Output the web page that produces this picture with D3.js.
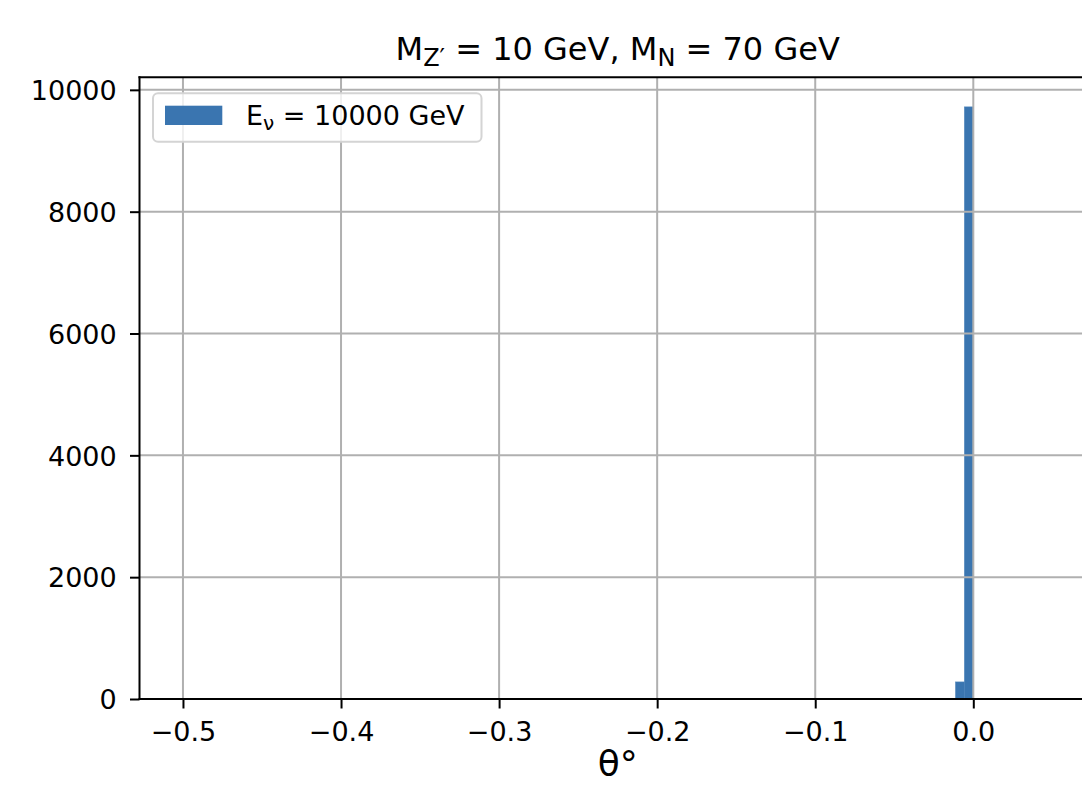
<!DOCTYPE html>
<html>
<head>
<meta charset="utf-8">
<script src="https://cdn.jsdelivr.net/npm/d3@7"></script>
<style>
  html, body { margin: 0; padding: 0; background: #ffffff; }
  svg { display: block; font-family: "DejaVu Sans", sans-serif; }
</style>
</head>
<body>
<svg id="chart" width="1082" height="785"></svg>
<script>
// Histogram of the emission angle (degrees)
const binEdges = [-0.0112, -0.0056, 0.0];
const counts = [280, 9720];
const xTicks = [-0.5, -0.4, -0.3, -0.2, -0.1, 0.0];
const yTicks = [0, 2000, 4000, 6000, 8000, 10000];
const xDomain = [-0.5275, 0.0775];
const yDomain = [0, 10206];

const barColor = "#3a75b0";
const gridColor = "#b0b0b0";

const svg = d3.select("#chart");
const plot = { left: 139.5, right: 1095.8, top: 77.3, bottom: 699 };

const x = d3.scaleLinear().domain(xDomain).range([plot.left, plot.right]);
const y = d3.scaleLinear().domain(yDomain).range([plot.bottom, plot.top]);

const bins = counts.map((c, i) => ({ x0: binEdges[i], x1: binEdges[i + 1], count: c }));

// bars
svg.append("g")
  .selectAll("rect")
  .data(bins)
  .join("rect")
  .attr("x", d => x(d.x0))
  .attr("width", d => x(d.x1) - x(d.x0))
  .attr("y", d => y(d.count))
  .attr("height", d => y(0) - y(d.count))
  .attr("fill", barColor)
  .attr("stroke", "#4a82b8")
  .attr("stroke-width", 0.6);

// grid lines (drawn above the bars)
const grid = svg.append("g").attr("stroke", gridColor).attr("stroke-width", 2);
grid.selectAll("line.vx")
  .data(xTicks)
  .join("line")
  .attr("x1", d => x(d)).attr("x2", d => x(d))
  .attr("y1", plot.top).attr("y2", plot.bottom);
grid.selectAll("line.hy")
  .data(yTicks)
  .join("line")
  .attr("y1", d => y(d)).attr("y2", d => y(d))
  .attr("x1", plot.left).attr("x2", plot.right);

// axes
const fmtX = d3.format(".1f");
const xAxis = svg.append("g")
  .attr("transform", `translate(0,${plot.bottom})`)
  .call(d3.axisBottom(x).tickValues(xTicks).tickFormat(fmtX).tickSize(9.5).tickPadding(13.5).tickSizeOuter(0));
const yAxis = svg.append("g")
  .attr("transform", `translate(${plot.left},0)`)
  .call(d3.axisLeft(y).tickValues(yTicks).tickFormat(d3.format("d")).tickSize(9.5).tickPadding(13.3).tickSizeOuter(0));

[xAxis, yAxis].forEach(g => {
  g.select(".domain").remove();
  g.selectAll(".tick line").attr("stroke", "#000").attr("stroke-width", 2);
  g.selectAll(".tick text")
    .attr("fill", "#000")
    .style("font-family", "DejaVu Sans")
    .style("font-size", "27px");
});
yAxis.selectAll(".tick text").attr("dy", "0.36em");

// spines
const spines = svg.append("g").attr("stroke", "#000").attr("stroke-width", 2).attr("fill", "none");
spines.append("line").attr("x1", plot.left).attr("x2", plot.left).attr("y1", plot.top - 1).attr("y2", plot.bottom + 1);
spines.append("line").attr("x1", plot.left - 1).attr("x2", plot.right).attr("y1", plot.bottom).attr("y2", plot.bottom);
spines.append("line").attr("x1", plot.left - 1).attr("x2", plot.right).attr("y1", plot.top).attr("y2", plot.top);
spines.append("line").attr("x1", plot.right).attr("x2", plot.right).attr("y1", plot.top).attr("y2", plot.bottom);

// title
const cx = (plot.left + plot.right) / 2;
const title = svg.append("text")
  .attr("x", cx).attr("y", 60)
  .attr("text-anchor", "middle")
  .style("font-size", "32px")
  .attr("fill", "#000");
title.append("tspan").text("M");
title.append("tspan").attr("dy", 6).style("font-size", "24px").text("Z′");
title.append("tspan").attr("dy", -6).text(" = 10 GeV, M");
title.append("tspan").attr("dy", 6).style("font-size", "24px").text("N");
title.append("tspan").attr("dy", -6).text(" = 70 GeV");

// x label
svg.append("text")
  .attr("x", cx).attr("y", 776)
  .attr("text-anchor", "middle")
  .style("font-size", "36px")
  .attr("fill", "#000")
  .text("θ°");

// legend
const legend = svg.append("g");
legend.append("rect")
  .attr("x", 153).attr("y", 93.3)
  .attr("width", 328.5).attr("height", 48.4)
  .attr("rx", 5).attr("ry", 5)
  .attr("fill", "#fff").attr("fill-opacity", 0.8)
  .attr("stroke", "#d4d4d4").attr("stroke-width", 2);
legend.append("rect")
  .attr("x", 165).attr("y", 105.7)
  .attr("width", 57.3).attr("height", 19.3)
  .attr("fill", barColor);
const lt = legend.append("text")
  .attr("x", 246).attr("y", 125)
  .style("font-size", "27px")
  .attr("fill", "#000");
lt.append("tspan").text("E");
lt.append("tspan").attr("dy", 5).style("font-size", "20px").text("ν");
lt.append("tspan").attr("dy", -5).text(" = 10000 GeV");
</script>
</body>
</html>
